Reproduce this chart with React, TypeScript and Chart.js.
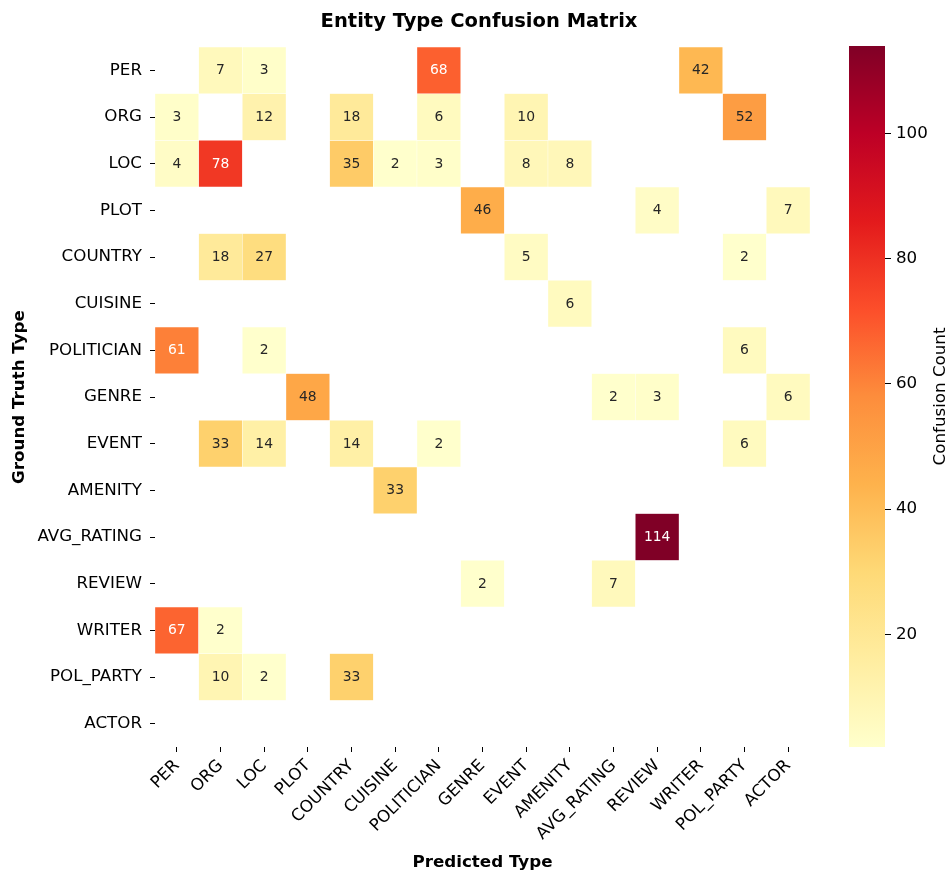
import React, { useEffect, useRef } from 'react';
import { Chart, registerables } from 'chart.js';

Chart.register(...registerables);

// ---- Data ----
const predictedTypes = ['PER', 'ORG', 'LOC', 'PLOT', 'COUNTRY', 'CUISINE', 'POLITICIAN', 'GENRE', 'EVENT', 'AMENITY', 'AVG_RATING', 'REVIEW', 'WRITER', 'POL_PARTY', 'ACTOR'];
const truthTypes = ['PER', 'ORG', 'LOC', 'PLOT', 'COUNTRY', 'CUISINE', 'POLITICIAN', 'GENRE', 'EVENT', 'AMENITY', 'AVG_RATING', 'REVIEW', 'WRITER', 'POL_PARTY', 'ACTOR'];

const rowPER = [0, 7, 3, 0, 0, 0, 68, 0, 0, 0, 0, 0, 42, 0, 0];
const rowORG = [3, 0, 12, 0, 18, 0, 6, 0, 10, 0, 0, 0, 0, 52, 0];
const rowLOC = [4, 78, 0, 0, 35, 2, 3, 0, 8, 8, 0, 0, 0, 0, 0];
const rowPLOT = [0, 0, 0, 0, 0, 0, 0, 46, 0, 0, 0, 4, 0, 0, 7];
const rowCOUNTRY = [0, 18, 27, 0, 0, 0, 0, 0, 5, 0, 0, 0, 0, 2, 0];
const rowCUISINE = [0, 0, 0, 0, 0, 0, 0, 0, 0, 6, 0, 0, 0, 0, 0];
const rowPOLITICIAN = [61, 0, 2, 0, 0, 0, 0, 0, 0, 0, 0, 0, 0, 6, 0];
const rowGENRE = [0, 0, 0, 48, 0, 0, 0, 0, 0, 0, 2, 3, 0, 0, 6];
const rowEVENT = [0, 33, 14, 0, 14, 0, 2, 0, 0, 0, 0, 0, 0, 6, 0];
const rowAMENITY = [0, 0, 0, 0, 0, 33, 0, 0, 0, 0, 0, 0, 0, 0, 0];
const rowAVG_RATING = [0, 0, 0, 0, 0, 0, 0, 0, 0, 0, 0, 114, 0, 0, 0];
const rowREVIEW = [0, 0, 0, 0, 0, 0, 0, 2, 0, 0, 7, 0, 0, 0, 0];
const rowWRITER = [67, 2, 0, 0, 0, 0, 0, 0, 0, 0, 0, 0, 0, 0, 0];
const rowPOL_PARTY = [0, 10, 2, 0, 33, 0, 0, 0, 0, 0, 0, 0, 0, 0, 0];
const rowACTOR = [0, 0, 0, 0, 0, 0, 0, 0, 0, 0, 0, 0, 0, 0, 0];

const matrix = [rowPER, rowORG, rowLOC, rowPLOT, rowCOUNTRY, rowCUISINE, rowPOLITICIAN, rowGENRE, rowEVENT, rowAMENITY, rowAVG_RATING, rowREVIEW, rowWRITER, rowPOL_PARTY, rowACTOR];

const colorMin = 2;
const colorMax = 114;
const colorbarTicks = [20, 40, 60, 80, 100];

const ylOrRd = ['#ffffcc', '#ffeda0', '#fed976', '#feb24c', '#fd8d3c', '#fc4e2a', '#e31a1c', '#bd0026', '#800026'];

const FONT = '"DejaVu Sans", "Liberation Sans", sans-serif';

function hexToRgb(h: string): number[] {
  return [parseInt(h.slice(1, 3), 16), parseInt(h.slice(3, 5), 16), parseInt(h.slice(5, 7), 16)];
}

function rgbFor(v: number): number[] {
  let t = (v - colorMin) / (colorMax - colorMin);
  t = Math.max(0, Math.min(1, t));
  const pos = t * (ylOrRd.length - 1);
  const i = Math.min(Math.floor(pos), ylOrRd.length - 2);
  const f = pos - i;
  const a = hexToRgb(ylOrRd[i]);
  const b = hexToRgb(ylOrRd[i + 1]);
  return [0, 1, 2].map((k) => a[k] + (b[k] - a[k]) * f);
}

function colorFor(v: number): string {
  const c = rgbFor(v);
  return `rgb(${Math.round(c[0])},${Math.round(c[1])},${Math.round(c[2])})`;
}

function textColorFor(v: number): string {
  const c = rgbFor(v).map((x) => x / 255).map((x) => (x <= 0.03928 ? x / 12.92 : Math.pow((x + 0.055) / 1.055, 2.4)));
  const lum = 0.2126 * c[0] + 0.7152 * c[1] + 0.0722 * c[2];
  return lum > 0.408 ? '#262626' : '#ffffff';
}

const cellLabels = {
  id: 'cellLabels',
  afterDatasetsDraw(chart: any) {
    const { ctx } = chart;
    const xs = chart.scales.x;
    const ys = chart.scales.y;
    ctx.save();
    ctx.font = `13.9px ${FONT}`;
    ctx.textAlign = 'center';
    ctx.textBaseline = 'middle';
    matrix.forEach((row, r) => {
      row.forEach((v, c) => {
        if (v > 0) {
          ctx.fillStyle = textColorFor(v);
          ctx.fillText(String(v), xs.getPixelForValue(c), ys.getPixelForValue(r) + 0.5);
        }
      });
    });
    ctx.restore();
  },
};

const mainTitle = {
  id: 'mainTitle',
  afterDraw(chart: any) {
    const { ctx } = chart;
    ctx.save();
    ctx.font = `bold 19.5px ${FONT}`;
    ctx.fillStyle = '#000';
    ctx.textAlign = 'center';
    ctx.textBaseline = 'alphabetic';
    ctx.fillText('Entity Type Confusion Matrix', 479, 27);
    ctx.restore();
  },
};

const colorbarLabel = {
  id: 'colorbarLabel',
  afterDraw(chart: any) {
    const { ctx } = chart;
    const ys = chart.scales.y;
    ctx.save();
    ctx.translate(115, (ys.top + ys.bottom) / 2);
    ctx.rotate(-Math.PI / 2);
    ctx.font = `16.7px ${FONT}`;
    ctx.fillStyle = '#000';
    ctx.textAlign = 'center';
    ctx.textBaseline = 'alphabetic';
    ctx.fillText('Confusion Count', 0, 0);
    ctx.restore();
  },
};

export default function App() {
  const mainRef = useRef<HTMLCanvasElement>(null);
  const barRef = useRef<HTMLCanvasElement>(null);

  useEffect(() => {
    const main = new Chart(mainRef.current as HTMLCanvasElement, {
      type: 'bar',
      data: {
        labels: predictedTypes,
        datasets: matrix.map((row, r) => ({
          label: truthTypes[r],
          data: row.map((v) => (v > 0 ? [r - 0.5, r + 0.5] : null)) as any,
          backgroundColor: row.map((v) => colorFor(v)),
          borderColor: '#ffffff',
          borderWidth: 0.5,
          borderSkipped: false,
          barPercentage: 1,
          categoryPercentage: 1,
          grouped: false,
        })),
      },
      options: {
        responsive: false,
        animation: false,
        layout: { padding: { left: 0, right: 20, top: 47, bottom: 0 } },
        plugins: {
          legend: { display: false },
          tooltip: { enabled: false },
          title: { display: false },
        },
        scales: {
          x: {
            type: 'category',
            offset: true,
            grid: { display: true, offset: false, drawOnChartArea: false, drawTicks: true, tickLength: 5, tickColor: '#000', tickWidth: 1 },
            border: { display: false },
            ticks: {
              autoSkip: false,
              maxRotation: 45,
              minRotation: 45,
              padding: 4,
              color: '#000',
              font: { family: FONT, size: 16.7 },
            },
            title: {
              display: true,
              text: 'Predicted Type',
              color: '#000',
              font: { family: FONT, size: 16.7, weight: 'bold' },
              padding: { top: 0, bottom: 0 },
            },
            afterFit: (s: any) => {
              s.height = 126;
            },
          },
          y: {
            type: 'linear',
            min: -0.5,
            max: 14.5,
            reverse: true,
            afterBuildTicks: (s: any) => {
              s.ticks = truthTypes.map((_, i) => ({ value: i }));
            },
            grid: { display: true, drawOnChartArea: false, drawTicks: true, tickLength: 5, tickColor: '#000', tickWidth: 1 },
            border: { display: false },
            ticks: {
              autoSkip: false,
              padding: 8,
              color: '#000',
              font: { family: FONT, size: 16.7 },
              callback: (v: any) => truthTypes[Number(v)] ?? '',
            },
            title: {
              display: true,
              text: 'Ground Truth Type',
              color: '#000',
              font: { family: FONT, size: 16.7, weight: 'bold' },
              padding: { top: 10, bottom: 0 },
            },
            afterFit: (s: any) => {
              s.width = 155;
            },
          },
        },
      } as any,
      plugins: [cellLabels, mainTitle],
    });

    const cbar = new Chart(barRef.current as HTMLCanvasElement, {
      type: 'bar',
      data: {
        labels: [''],
        datasets: [
          {
            data: [[colorMin, colorMax]] as any,
            backgroundColor: (c: any) => {
              const chart = c.chart;
              if (!chart.chartArea) return ylOrRd[0];
              const ys = chart.scales.y;
              const g = chart.ctx.createLinearGradient(0, ys.getPixelForValue(colorMin), 0, ys.getPixelForValue(colorMax));
              ylOrRd.forEach((col, i) => g.addColorStop(i / (ylOrRd.length - 1), col));
              return g;
            },
            borderWidth: 0,
            barPercentage: 1,
            categoryPercentage: 1,
          },
        ],
      },
      options: {
        responsive: false,
        animation: false,
        layout: { padding: { left: 19, right: 0, top: 46, bottom: 126 } },
        plugins: { legend: { display: false }, tooltip: { enabled: false } },
        scales: {
          x: { display: false },
          y: {
            type: 'linear',
            position: 'right',
            min: colorMin,
            max: colorMax,
            afterBuildTicks: (s: any) => {
              s.ticks = colorbarTicks.map((v) => ({ value: v }));
            },
            grid: { display: true, drawOnChartArea: false, drawTicks: true, tickLength: 6, tickColor: '#000', tickWidth: 1 },
            border: { display: false },
            ticks: { padding: 5, color: '#000', font: { family: FONT, size: 16.7 } },
            afterFit: (s: any) => {
              s.width = 67;
            },
          },
        },
      } as any,
      plugins: [colorbarLabel],
    });

    return () => {
      main.destroy();
      cbar.destroy();
    };
  }, []);

  return (
    <div style={{ position: 'absolute', left: 0, top: 0, width: 952, height: 873, background: '#ffffff' }}>
      <canvas ref={mainRef} width={830} height={873} style={{ position: 'absolute', left: 0, top: 0, width: 830, height: 873 }} />
      <canvas ref={barRef} width={122} height={873} style={{ position: 'absolute', left: 830, top: 0, width: 122, height: 873 }} />
    </div>
  );
}
